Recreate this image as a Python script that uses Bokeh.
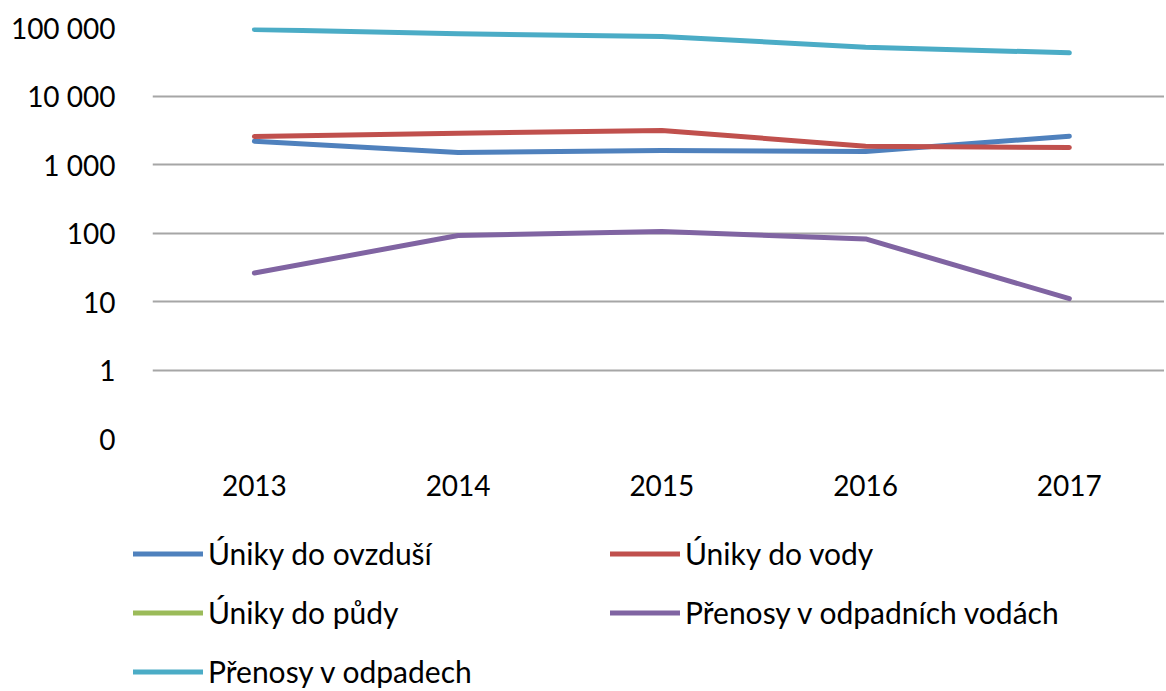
from bokeh.plotting import figure
from bokeh.models import Range1d, FixedTicker, Legend, LegendItem
from bokeh.embed import file_html
from bokeh.resources import INLINE

years = [2013, 2014, 2015, 2016, 2017]
uniky_ovzdusi = [2190, 1500, 1600, 1550, 2590]
uniky_voda = [2560, 2860, 3140, 1850, 1770]
uniky_puda = [float("nan")] * 5
prenosy_odpadni_vody = [26, 92, 105, 82, 11]
prenosy_odpady = [93500, 81000, 74000, 51500, 42700]

series_names = ["Úniky do ovzduší", "Úniky do vody", "Úniky do půdy",
                "Přenosy v odpadních vodách", "Přenosy v odpadech"]
series_values = [uniky_ovzdusi, uniky_voda, uniky_puda, prenosy_odpadni_vody, prenosy_odpady]
colors = ["#4F81BD", "#C0504D", "#9BBB59", "#8064A2", "#4BACC6"]

y_ticks = [0.1, 1, 10, 100, 1000, 10000, 100000]
y_tick_labels = ["0", "1", "10", "100", "1 000", "10 000", "100 000"]

FONT = "Lato"

p = figure(width=1164, height=505, y_axis_type="log",
           x_range=Range1d(2012.5, 2017.467), y_range=Range1d(0.1, 100000),
           output_backend="svg", toolbar_location=None,
           min_border_left=152, min_border_top=27, min_border_right=0,
           min_border_bottom=67)
p.outline_line_color = None
p.background_fill_color = "white"

p.xgrid.grid_line_color = None
p.ygrid.ticker = FixedTicker(ticks=y_ticks)
p.ygrid.grid_line_color = "#A6A6A6"
p.ygrid.grid_line_width = 2

p.yaxis.ticker = FixedTicker(ticks=y_ticks)
p.yaxis.major_label_overrides = {t: l for t, l in zip(y_ticks, y_tick_labels)}
p.yaxis.axis_line_color = None
p.yaxis.major_tick_line_color = None
p.yaxis.minor_tick_line_color = None
p.yaxis.major_label_standoff = 31
p.yaxis.major_label_text_font = FONT
p.yaxis.major_label_text_font_size = "28px"
p.yaxis.major_label_text_color = "#000000"

p.xaxis.ticker = FixedTicker(ticks=years)
p.xaxis.axis_line_color = None
p.xaxis.major_tick_line_color = None
p.xaxis.minor_tick_line_color = None
p.xaxis.major_label_standoff = 30
p.xaxis.major_label_text_font = FONT
p.xaxis.major_label_text_font_size = "28px"
p.xaxis.major_label_text_color = "#000000"

for vals, c in zip(series_values, colors):
    p.line(years, vals, line_color=c, line_width=5, line_cap="round", line_join="round")

# legend panel below the chart
lg = figure(width=1164, height=185, output_backend="svg", toolbar_location=None,
            x_range=Range1d(0, 1), y_range=Range1d(0, 1),
            min_border_left=0, min_border_right=0, min_border_top=0, min_border_bottom=0)
lg.outline_line_color = None
lg.axis.visible = False
lg.grid.visible = False
items = []
for name, c in zip(series_names, colors):
    r = lg.line([float("nan")], [float("nan")], line_color=c, line_width=5, line_cap="round")
    items.append(LegendItem(label=name, renderers=[r]))

legend = Legend(items=items, location=(133, 1), orientation="horizontal", ncols=2,
                glyph_width=70, glyph_height=29, label_standoff=5, spacing=23,
                label_width=379, padding=0, margin=0,
                border_line_color=None, background_fill_alpha=0,
                label_text_font=FONT, label_text_font_size="30px", label_text_color="#000000")
lg.add_layout(legend, "center")

open("out.html", "w").write(file_html([p, lg], INLINE))
